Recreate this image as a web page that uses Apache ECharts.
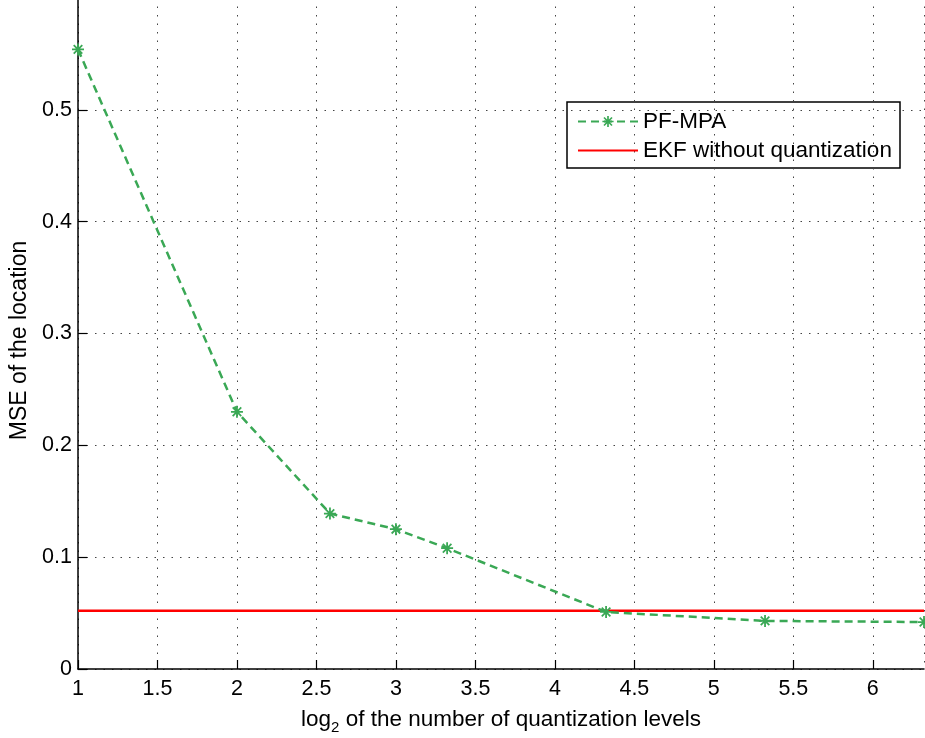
<!DOCTYPE html>
<html>
<head>
<meta charset="utf-8">
<script src="https://cdn.jsdelivr.net/npm/echarts@6/dist/echarts.min.js"></script>
<style>
html,body{margin:0;padding:0;background:#fff;}
#chart{width:925px;height:738px;}
</style>
</head>
<body>
<div id="chart"></div>
<script>
// log2 of the number of quantization levels
var xBits = [1, 2, 2.585, 3, 3.322, 4.322, 5.322, 6.322];
var pfMpa = [0.554, 0.230, 0.139, 0.125, 0.108, 0.051, 0.043, 0.042];
var ekfLevel = 0.052;
var xRange = [1, 6.322];
var seriesNames = ['PF-MPA', 'EKF without quantization'];

var FONT = 'Liberation Sans, Arial, sans-serif';
// asterisk marker, filled bars
var starPath = 'path://M8.5,0 L11.5,0 L11.5,20 L8.5,20 Z M0,8.5 L20,8.5 L20,11.5 L0,11.5 Z ' +
    'M1.8,3.9 L3.9,1.8 L18.2,16.1 L16.1,18.2 Z M16.1,1.8 L18.2,3.9 L3.9,18.2 L1.8,16.1 Z';

var chart = echarts.init(document.getElementById('chart'));

var option = {
    backgroundColor: '#fff',
    animation: false,
    textStyle: { fontFamily: FONT },
    grid: { left: 78, right: 1, top: -2, bottom: 69, outerBoundsMode: 'none', containLabel: false },
    xAxis: {
        type: 'value',
        min: xRange[0],
        max: xRange[1],
        interval: 0.5,
        name: '{a|log}{s|2}{a| of the number of quantization levels}',
        nameLocation: 'middle',
        nameGap: 30,
        nameTextStyle: {
            rich: {
                a: { fontFamily: FONT, fontSize: 22.5, color: '#000', lineHeight: 25 },
                s: { fontFamily: FONT, fontSize: 15, color: '#000', lineHeight: 15, padding: [15, 0, 0, 0] }
            }
        },
        axisLine: { lineStyle: { color: '#000', width: 1.5 } },
        axisTick: { inside: true, length: 9, lineStyle: { color: '#000', width: 1.2 } },
        axisLabel: { color: '#000', fontSize: 21.5, fontFamily: FONT, margin: 9, showMaxLabel: false },
        splitLine: { show: true, lineStyle: { color: '#444', width: 1, type: [1.5, 7] } }
    },
    yAxis: {
        type: 'value',
        min: 0,
        max: 0.6,
        interval: 0.1,
        name: 'MSE of the location',
        nameLocation: 'middle',
        nameGap: 46,
        nameTextStyle: { color: '#000', fontSize: 23, fontFamily: FONT, padding: [0, 14, 0, 0] },
        axisLine: { lineStyle: { color: '#000', width: 1.5 } },
        axisTick: { inside: true, length: 9, lineStyle: { color: '#000', width: 1.2 } },
        axisLabel: { color: '#000', fontSize: 21.5, fontFamily: FONT, margin: 6, showMaxLabel: false },
        splitLine: { show: true, lineStyle: { color: '#444', width: 1, type: [1.5, 7] } }
    },
    legend: {
        orient: 'vertical',
        left: 577,
        top: 110,
        itemWidth: 60,
        itemHeight: 14,
        itemGap: 6,
        padding: 0,
        textStyle: { color: '#000', fontSize: 22.5, fontFamily: FONT },
        data: [
            { name: seriesNames[0] },
            { name: seriesNames[1], itemStyle: { opacity: 0 } }
        ]
    },
    graphic: [{
        type: 'rect',
        shape: { x: 567, y: 102, width: 333, height: 66 },
        style: { fill: '#fff', stroke: '#000', lineWidth: 1.5 },
        z: 0,
        zlevel: 0
    }],
    series: [
        {
            name: seriesNames[0],
            type: 'line',
            data: xBits.map(function (x, i) { return [x, pfMpa[i]]; }),
            symbol: starPath,
            symbolSize: 12,
            itemStyle: { color: '#3aa855' },
            lineStyle: { color: '#3aa855', width: 2.5, type: [8, 5] },
            z: 3
        },
        {
            name: seriesNames[1],
            type: 'line',
            data: [[xRange[0], ekfLevel], [xRange[1], ekfLevel]],
            symbol: 'none',
            itemStyle: { color: '#ff0000' },
            lineStyle: { color: '#ff0000', width: 2.5 },
            z: 2
        }
    ]
};
chart.setOption(option);
</script>
</body>
</html>
